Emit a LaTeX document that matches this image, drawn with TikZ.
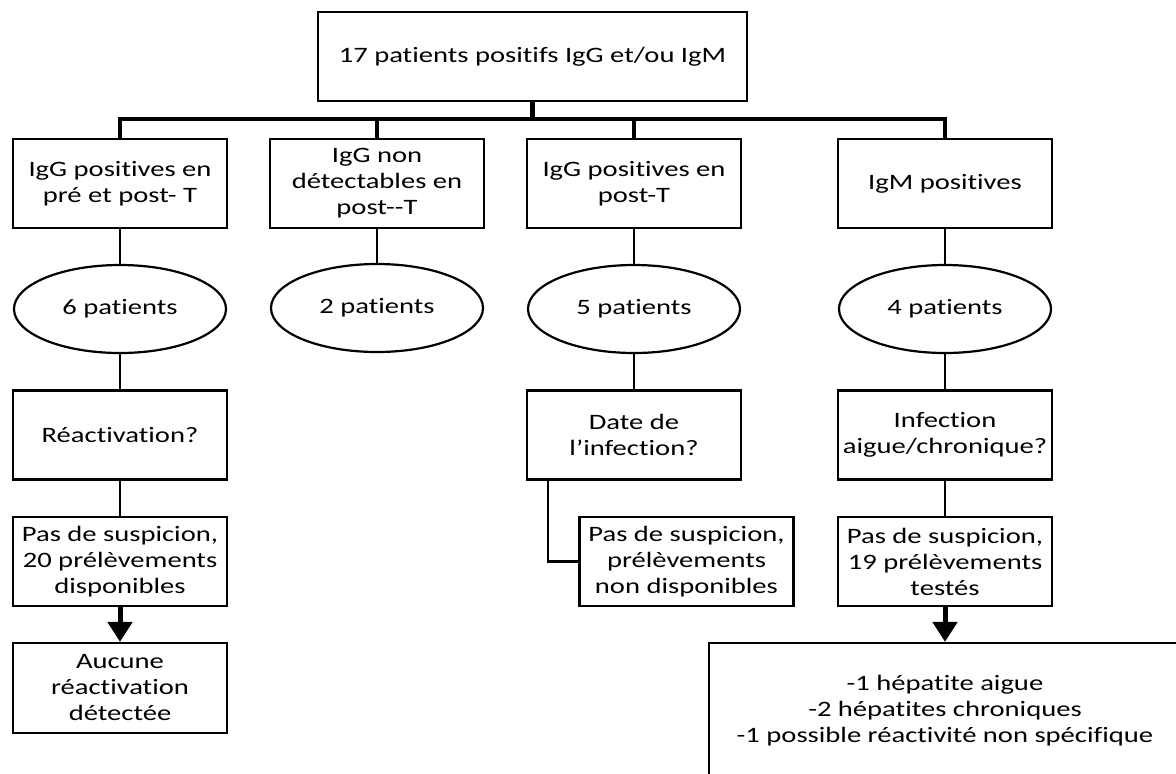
\documentclass[tikz,border=0pt]{standalone}
\usepackage{fontspec}
\setmainfont{Carlito}[FakeStretch=1.3, Ligatures=NoCommon]
\usetikzlibrary{arrows.meta}
\usetikzlibrary{positioning}
\usetikzlibrary{shapes.geometric}
\tikzset{%
    box/.style={draw, line width=2.2pt, rectangle, align=center, inner sep=0pt,
        minimum width=214pt, minimum height=89pt},
    oval/.style={draw, line width=2.2pt, ellipse, inner sep=0pt,
        minimum width=212pt, minimum height=88pt},
    link/.style={line width=2.2pt},
    bus/.style={line width=4.5pt},
    down/.style={line width=5pt, -{Triangle[width=24pt,length=20pt]}},
}
\begin{document}
\begin{tikzpicture}[x=1pt,y=-1pt,font=\fontsize{22}{26}\selectfont]
\useasboundingbox (0,0) rectangle (1176,774);
\clip (0,0) rectangle (1176,774);
\node[box, minimum width=429pt] (n1) at (532.5,56.5) {17 patients positifs IgG et/ou IgM};
\coordinate (b) at (532.5,119);
\node[box] (n2) at (120,183.5) {IgG positives en\\pré et post- T};
\node[box] (n3) at (377,183.5) {IgG non\\détectables en\\post-{}-T};
\node[box] (n4) at (634,183.5) {IgG positives en\\post-T};
\node[box] (n5) at (945,183.5) {IgM positives};
\node[oval] (n6) at (120,309) {6 patients};
\node[oval] (n7) at (377,308) {2 patients};
\node[oval] (n8) at (634,309) {5 patients};
\node[oval] (n9) at (945,309) {4 patients};
\node[box] (n10) at (120,435) {Réactivation?};
\node[box] (n11) at (634,435) {Date de\\l’infection?};
\node[box] (n12) at (945,435) {Infection\\aigue/chronique?};
\node[box] (n13) at (120,561.5) {Pas de suspicion,\\20 prélèvements\\disponibles};
\node[box] (n14) at (686.5,561.5) {Pas de suspicion,\\prélèvements\\non disponibles};
\node[box] (n15) at (945,561.5) {Pas de suspicion,\\19 prélèvements\\testés};
\node[box, minimum height=90pt] (n16) at (120,688) {Aucune\\réactivation\\détectée};
\node[box, minimum width=472pt, minimum height=136pt] (n17) at (945,711) {-1 hépatite aigue\\-2 hépatites chroniques\\-1 possible réactivité non spécifique};
\draw[bus] (n1) -- (b);
\draw[bus] (n2) |- (b);
\draw[bus] (n3) |- (b);
\draw[bus] (n4) |- (b);
\draw[bus] (n5) |- (b);
\path (n2) edge[link] (n6);
\path (n3) edge[link] (n7);
\path (n4) edge[link] (n8);
\path (n5) edge[link] (n9);
\path (n6) edge[link] (n10);
\path (n8) edge[link] (n11);
\path (n9) edge[link] (n12);
\path (n10) edge[link] (n13);
\path (n12) edge[link] (n15);
\draw[link] ([xshift=-86pt]n11.south) |- (n14.west);
\draw[down] (n13) -- (n16);
\draw[down] (n15) -- (n17);
\end{tikzpicture}
\end{document}
